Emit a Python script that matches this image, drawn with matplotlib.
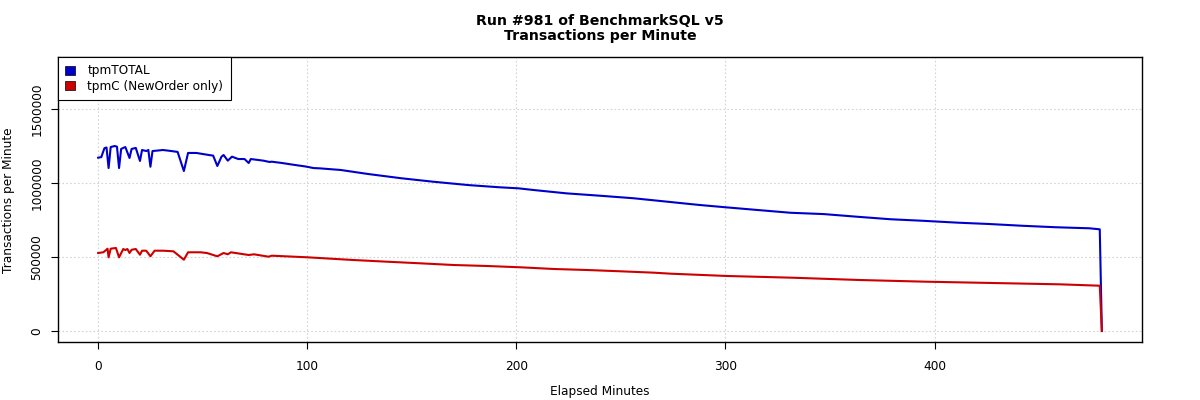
import matplotlib
matplotlib.use("Agg")
import matplotlib.pyplot as plt
from matplotlib.patches import Patch

# ---- data ----
total_minutes = [0, 1.5, 3, 4, 5, 6, 8, 9, 10, 11, 12, 13, 15, 16, 18, 20, 21, 23, 24, 25,
                 26, 29, 31, 35, 38, 41, 43, 47, 50, 53, 55, 57, 59, 60, 62, 64, 67, 70, 72,
                 73, 79, 82, 83, 88, 94, 99, 103, 106, 116, 129, 145, 160, 177, 192, 201,
                 208, 224, 240, 256, 272, 283, 288, 300, 315, 331, 347, 363, 379, 394, 411,
                 426, 442, 458, 474, 479, 480]
tpm_total = [1171000, 1175000, 1235000, 1240000, 1101000, 1243000, 1250000, 1245000, 1101000,
             1230000, 1237000, 1243000, 1169000, 1230000, 1237000, 1149000, 1223000, 1216000,
             1223000, 1110000, 1216000, 1220000, 1223000, 1216000, 1210000, 1081000, 1203000,
             1203000, 1196000, 1189000, 1185000, 1115000, 1178000, 1189000, 1151000, 1178000,
             1162000, 1162000, 1135000, 1162000, 1151000, 1142000, 1144000, 1135000, 1122000,
             1112000, 1101000, 1099000, 1088000, 1061000, 1032000, 1009000, 986000, 971000,
             964000, 953000, 930000, 914000, 897000, 874000, 858000, 851000, 836000, 818000,
             799000, 790000, 772000, 755000, 745000, 732000, 723000, 711000, 701000, 694000,
             687000, 0]

neworder_minutes = [0, 2.5, 4.5, 5, 6, 8.5, 10, 12, 13, 14, 15, 16, 18, 20, 21, 23, 25, 27,
                    31, 36, 41, 43, 49, 52, 57, 60, 62, 63.5, 72, 74.5, 81.5, 83, 100, 122,
                    138, 154, 170, 186, 202, 218, 234, 250, 266, 274, 301, 332, 364, 396, 428,
                    460, 479, 480]
tpm_c = [527000, 532000, 556000, 498000, 556000, 561000, 498000, 554000, 547000, 554000,
         527000, 549000, 554000, 515500, 542600, 542600, 504700, 542600, 542600, 538500,
         481800, 531800, 531800, 527000, 504700, 527000, 518200, 531800, 513500, 518200,
         502000, 508800, 498000, 479700, 468300, 457400, 445900, 439200, 430400, 418900,
         412100, 403300, 393900, 387100, 371600, 360100, 344600, 333100, 324300, 315300,
         306000, 0]

x_ticks = [0, 100, 200, 300, 400]
y_ticks = [0, 500000, 1000000, 1500000]
series_labels = ["tpmTOTAL", "tpmC (NewOrder only)"]
title_lines = ["Run #981 of BenchmarkSQL v5", "Transactions per Minute"]

BLUE = "#0000CD"
RED = "#CD0000"

plt.rcParams['font.family'] = ['DejaVu Sans']
fig = plt.figure(figsize=(12, 4), dpi=100)
ax = fig.add_axes([58 / 1200, 58 / 400, (1142 - 58) / 1200, (342 - 57) / 400])

for xt in x_ticks:
    ax.axvline(xt, color="#d3d3d3", lw=0.8, ls=(0, (1.5, 2)), zorder=0)
for yt in y_ticks:
    ax.axhline(yt, color="#d3d3d3", lw=0.8, ls=(0, (1.5, 2)), zorder=0)

ax.plot(total_minutes, tpm_total, color=BLUE, lw=1.5, zorder=2)
ax.plot(neworder_minutes, tpm_c, color=RED, lw=1.5, zorder=3)

ax.set_xlim(-19.2, 499.2)
ax.set_ylim(-74324, 1851351)
ax.set_xticks(x_ticks)
ax.set_xticklabels([str(v) for v in x_ticks])
ax.set_yticks(y_ticks)
ax.set_yticklabels([str(v) for v in y_ticks], rotation=90, va="center")

ax.tick_params(axis="both", direction="out", length=5, width=0.8, labelsize=8.7, color="black")
ax.tick_params(axis="x", pad=8)
ax.tick_params(axis="y", pad=5.5)
for s in ax.spines.values():
    s.set_linewidth(1.0)
    s.set_color("black")

fig.text(600 / 1200, 1 - 392 / 400, "Elapsed Minutes", ha="center", va="center", fontsize=8.7)
fig.text(9 / 1200, 1 - 200 / 400, "Transactions per Minute", ha="center", va="center",
         rotation=90, fontsize=8.7)
fig.text(600 / 1200, 1 - 21 / 400, title_lines[0], ha="center", va="center",
         fontsize=10.2, fontweight="bold")
fig.text(600 / 1200, 1 - 36 / 400, title_lines[1], ha="center", va="center",
         fontsize=10.2, fontweight="bold")

handles = [Patch(facecolor=BLUE, edgecolor="black", lw=0.5),
           Patch(facecolor=RED, edgecolor="black", lw=0.5)]
leg = ax.legend(handles, series_labels, loc="upper left", borderaxespad=0, fancybox=False,
                fontsize=8.7, handlelength=0.8, handleheight=0.8, handletextpad=1.0,
                borderpad=0.62, labelspacing=0.2, framealpha=1)
leg.get_frame().set_edgecolor("black")
leg.get_frame().set_linewidth(0.8)

fig.savefig("out.png", dpi=100)
